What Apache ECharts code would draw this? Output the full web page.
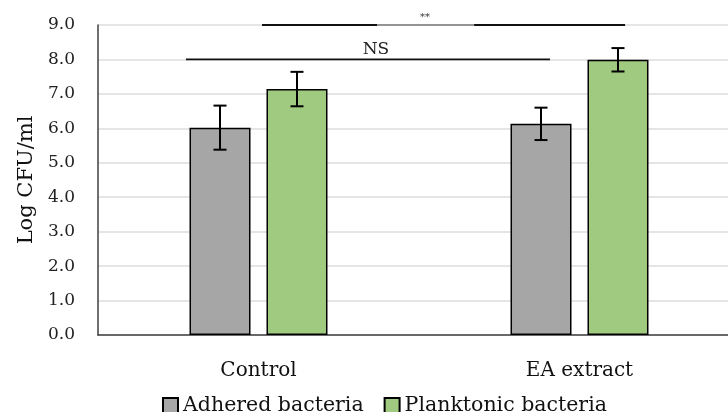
<!DOCTYPE html>
<html>
<head>
<meta charset="utf-8">
<script src="https://cdn.jsdelivr.net/npm/echarts@6/dist/echarts.min.js"></script>
<style>
  html, body { margin: 0; padding: 0; background: #fff; overflow: hidden; }
  /* plot area runs a bit past the right edge of the picture, like the original crop */
  #myChart { width: 740px; height: 412px; }
</style>
</head>
<body>
<div id="myChart"></div>
<script>
// data
var categories = ["Control", "EA extract"];
var seriesNames = ["Adhered bacteria", "Planktonic bacteria"];
var adhered = [6.02, 6.13];
var planktonic = [7.14, 7.99];
var adheredErr = [0.64, 0.47];
var planktonicErr = [0.50, 0.34];
var yTicks = [0, 1, 2, 3, 4, 5, 6, 7, 8, 9];

// significance brackets (x in category units, y in Log CFU/ml)
var sigLabels = ["NS", "**"];
var sigFrom = [-0.226, 0.011];
var sigTo = [0.908, 1.142];
var sigLevel = [8.0, 9.0];
var sigTextX = [0.366, 0.519];

var FONT = "DejaVu Serif";
var barW = 61;
var gap = 16;
var off = (barW + gap) / 2;

var myChart = echarts.init(document.getElementById("myChart"));

function errorItem(shift) {
  return function (params, api) {
    var c = api.value(0), v = api.value(1), e = api.value(2);
    var top = api.coord([c, v + e]);
    var bot = api.coord([c, v - e]);
    var x = top[0] + shift;
    var style = { stroke: "#000", lineWidth: 2 };
    return {
      type: "group",
      children: [
        { type: "line", shape: { x1: x, y1: top[1], x2: x, y2: bot[1] }, style: style },
        { type: "line", shape: { x1: x - 6.5, y1: top[1], x2: x + 6.5, y2: top[1] }, style: style },
        { type: "line", shape: { x1: x - 6.5, y1: bot[1], x2: x + 6.5, y2: bot[1] }, style: style }
      ]
    };
  };
}

function sigItem(params, api) {
  var i = params.dataIndex;
  var a = api.coord([api.value(0), api.value(2)]);
  var b = api.coord([api.value(1), api.value(2)]);
  var t = api.coord([api.value(3), api.value(2)]);
  var children = [];
  if (i === 1) {
    // '**' bracket: lighter segment under the label
    children.push({ type: "line", shape: { x1: a[0], y1: a[1], x2: t[0] - 48, y2: a[1] }, style: { stroke: "#111", lineWidth: 1.8 } });
    children.push({ type: "line", shape: { x1: t[0] - 48, y1: a[1], x2: t[0] + 49, y2: a[1] }, style: { stroke: "#7a7a7a", lineWidth: 1.4 } });
    children.push({ type: "line", shape: { x1: t[0] + 49, y1: a[1], x2: b[0], y2: a[1] }, style: { stroke: "#111", lineWidth: 1.8 } });
    children.push({ type: "text", x: t[0], y: a[1] - 3, style: { text: sigLabels[i], font: "10px " + FONT, fill: "#333", align: "center", verticalAlign: "bottom" } });
  } else {
    children.push({ type: "line", shape: { x1: a[0], y1: a[1], x2: b[0], y2: a[1] }, style: { stroke: "#111", lineWidth: 1.8 } });
    children.push({ type: "text", x: t[0], y: a[1] - 1, style: { text: sigLabels[i], font: "17px " + FONT, fill: "#222", align: "center", verticalAlign: "bottom" } });
  }
  return { type: "group", children: children };
}

myChart.setOption({
  animation: false,
  color: ["#a6a6a6", "#9fca7f"],
  grid: { left: 98, right: 0, top: 25, bottom: 77 },
  legend: {
    data: seriesNames,
    left: 157,
    top: 390,
    itemWidth: 15,
    itemHeight: 15,
    itemGap: 20,
    icon: "rect",
    textStyle: { fontFamily: FONT, fontSize: 20.5, color: "#111" }
  },
  xAxis: [
    {
      type: "category",
      data: categories,
      axisLine: { lineStyle: { color: "#404040", width: 1.5 } },
      axisTick: { show: false },
      axisLabel: { fontFamily: FONT, fontSize: 20, color: "#111", margin: 26 }
    },
    { type: "value", min: -0.5, max: 1.5, show: false }
  ],
  yAxis: {
    type: "value",
    min: yTicks[0],
    max: yTicks[yTicks.length - 1],
    interval: 1,
    name: "Log CFU/ml",
    nameLocation: "middle",
    nameGap: 60,
    nameTextStyle: { fontFamily: FONT, fontSize: 21, color: "#111" },
    axisLine: { show: true, onZero: false, lineStyle: { color: "#404040", width: 1.5 } },
    axisTick: { show: false },
    splitLine: { lineStyle: { color: "#dcdcdc", width: 1.5 } },
    axisLabel: {
      fontFamily: FONT,
      fontSize: 17,
      color: "#222",
      margin: 23,
      formatter: function (v) { return v.toFixed(1); }
    }
  },
  series: [
    {
      name: seriesNames[0],
      type: "bar",
      data: adhered,
      barWidth: barW,
      barGap: (gap / barW * 100).toFixed(1) + "%",
      itemStyle: { borderColor: "#000", borderWidth: 1.5 }
    },
    {
      name: seriesNames[1],
      type: "bar",
      data: planktonic,
      barWidth: barW,
      itemStyle: { borderColor: "#000", borderWidth: 1.5 }
    },
    {
      type: "custom",
      renderItem: errorItem(-off),
      data: adhered.map(function (v, i) { return [i, v, adheredErr[i]]; }),
      z: 5
    },
    {
      type: "custom",
      renderItem: errorItem(off),
      data: planktonic.map(function (v, i) { return [i, v, planktonicErr[i]]; }),
      z: 5
    },
    {
      type: "custom",
      xAxisIndex: 1,
      renderItem: sigItem,
      data: sigLabels.map(function (s, i) { return [sigFrom[i], sigTo[i], sigLevel[i], sigTextX[i]]; }),
      z: 6
    }
  ]
});
</script>
</body>
</html>
